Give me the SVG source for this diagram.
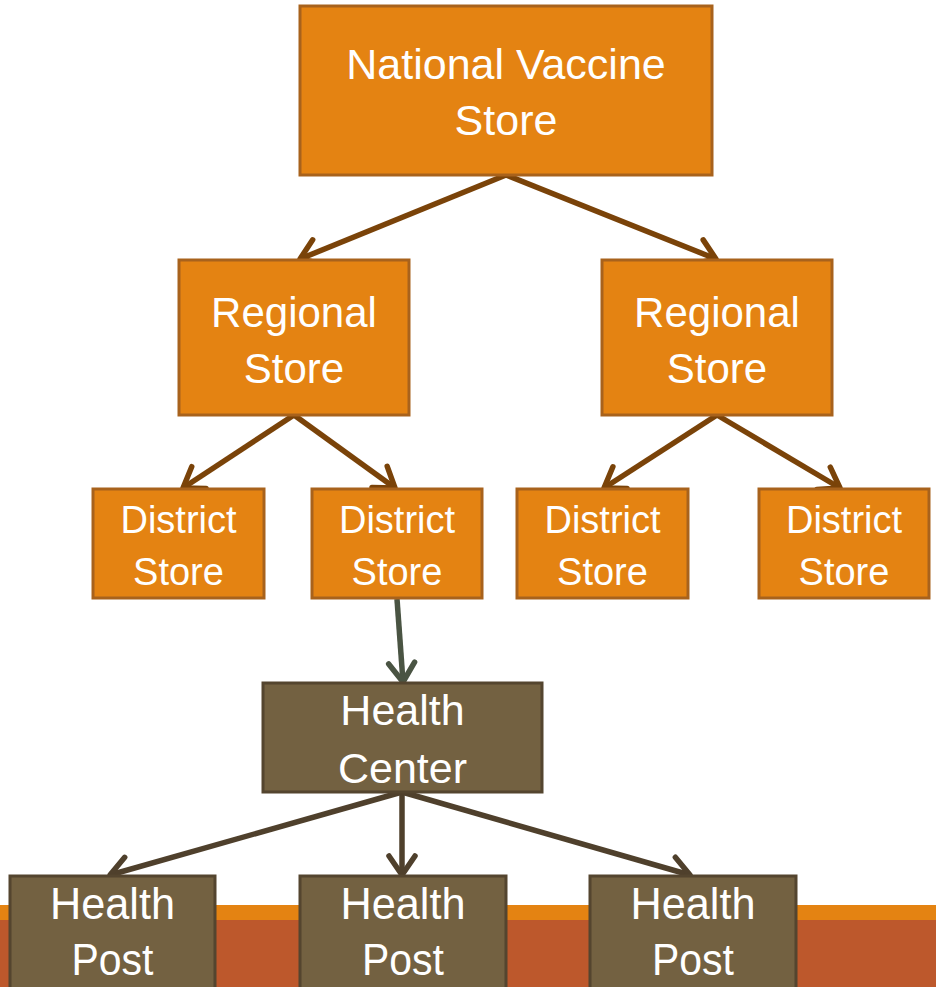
<svg xmlns="http://www.w3.org/2000/svg" width="936" height="987" viewBox="0 0 936 987">
<style>
.o{fill:#E48312;stroke:#A8621C;stroke-width:3}
.b{fill:#736141;stroke:#54452F;stroke-width:3}
text{font-family:"Liberation Sans",Arial,sans-serif;fill:#fff;text-anchor:middle}
.c1{stroke:#7A4309;stroke-width:5.5;fill:none;marker-end:url(#m1)}
.c2{stroke:#4A5443;stroke-width:5.5;fill:none;marker-end:url(#m2)}
.c3{stroke:#4F402C;stroke-width:5.5;fill:none;marker-end:url(#m3)}
</style>
<defs>
<marker id="m1" markerUnits="userSpaceOnUse" viewBox="-24 -17 28 34" markerWidth="28" markerHeight="34" refX="0" refY="0" orient="auto"><path d="M-19,-13 L0,0 L-19,13" fill="none" stroke="#7A4309" stroke-width="5.5" stroke-linecap="round" stroke-linejoin="round"/></marker>
<marker id="m2" markerUnits="userSpaceOnUse" viewBox="-24 -17 28 34" markerWidth="28" markerHeight="34" refX="0" refY="0" orient="auto"><path d="M-19,-13 L0,0 L-19,13" fill="none" stroke="#4A5443" stroke-width="5.5" stroke-linecap="round" stroke-linejoin="round"/></marker>
<marker id="m3" markerUnits="userSpaceOnUse" viewBox="-24 -17 28 34" markerWidth="28" markerHeight="34" refX="0" refY="0" orient="auto"><path d="M-19,-13 L0,0 L-19,13" fill="none" stroke="#4F402C" stroke-width="5.5" stroke-linecap="round" stroke-linejoin="round"/></marker>
</defs>
<rect x="0" y="905" width="936" height="15" fill="#E48312"/>
<rect x="0" y="920" width="936" height="67" fill="#BD582C"/>
<g id="connectors">
<line class="c1" x1="506" y1="175" x2="300" y2="259"/>
<line class="c1" x1="506" y1="175" x2="716" y2="259"/>
<line class="c1" x1="294" y1="415" x2="183" y2="488"/>
<line class="c1" x1="294" y1="415" x2="395" y2="488"/>
<line class="c1" x1="717" y1="415" x2="604" y2="488"/>
<line class="c1" x1="717" y1="415" x2="840" y2="488"/>
<line class="c2" x1="397" y1="599" x2="403" y2="682"/>
<line class="c3" x1="402" y1="792" x2="110" y2="875"/>
<line class="c3" x1="402" y1="792" x2="402" y2="875"/>
<line class="c3" x1="402" y1="792" x2="690" y2="875"/>
</g>
<g id="national"><rect class="o" x="300" y="6" width="412" height="169"/><text x="506" y="79" font-size="43">National Vaccine</text><text x="506" y="135" font-size="43">Store</text></g>
<g id="regional1"><rect class="o" x="179" y="260" width="230" height="155"/><text x="294" y="327" font-size="42">Regional</text><text x="294" y="383" font-size="42">Store</text></g>
<g id="regional2"><rect class="o" x="602" y="260" width="230" height="155"/><text x="717" y="327" font-size="42">Regional</text><text x="717" y="383" font-size="42">Store</text></g>
<g id="district1"><rect class="o" x="93" y="489" width="171" height="109"/><text x="178.5" y="533" font-size="38">District</text><text x="178.5" y="585" font-size="38">Store</text></g>
<g id="district2"><rect class="o" x="312" y="489" width="170" height="109"/><text x="397" y="533" font-size="38">District</text><text x="397" y="585" font-size="38">Store</text></g>
<g id="district3"><rect class="o" x="517" y="489" width="171" height="109"/><text x="602.5" y="533" font-size="38">District</text><text x="602.5" y="585" font-size="38">Store</text></g>
<g id="district4"><rect class="o" x="759" y="489" width="170" height="109"/><text x="844" y="533" font-size="38">District</text><text x="844" y="585" font-size="38">Store</text></g>
<g id="healthcenter"><rect class="b" x="263" y="683" width="279" height="109"/><text x="402.5" y="725" font-size="43">Health</text><text x="402.5" y="783" font-size="43">Center</text></g>
<g id="healthpost1"><rect class="b" x="10" y="876" width="205" height="115"/><text x="112.5" y="919" font-size="45" textLength="125" lengthAdjust="spacingAndGlyphs">Health</text><text x="112.5" y="975" font-size="45" textLength="82" lengthAdjust="spacingAndGlyphs">Post</text></g>
<g id="healthpost2"><rect class="b" x="300" y="876" width="206" height="115"/><text x="403" y="919" font-size="45" textLength="125" lengthAdjust="spacingAndGlyphs">Health</text><text x="403" y="975" font-size="45" textLength="82" lengthAdjust="spacingAndGlyphs">Post</text></g>
<g id="healthpost3"><rect class="b" x="590" y="876" width="206" height="115"/><text x="693" y="919" font-size="45" textLength="125" lengthAdjust="spacingAndGlyphs">Health</text><text x="693" y="975" font-size="45" textLength="82" lengthAdjust="spacingAndGlyphs">Post</text></g>
</svg>
